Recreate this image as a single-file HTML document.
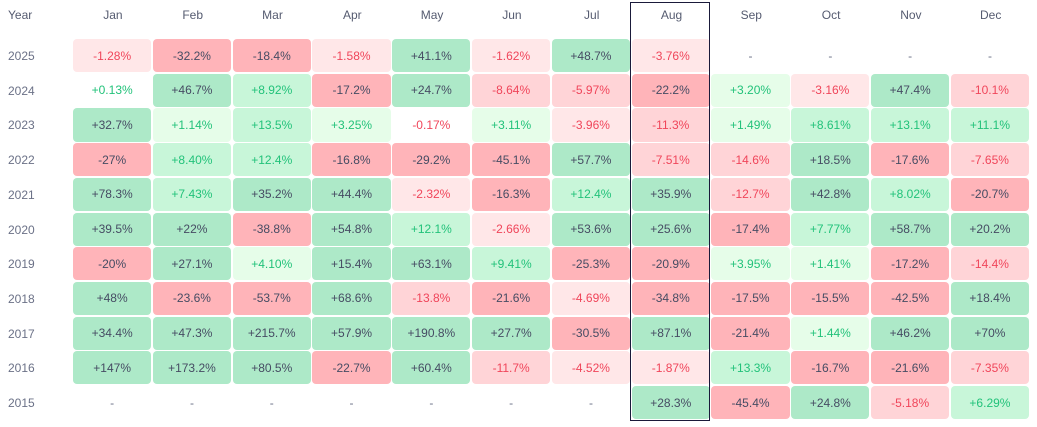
<!DOCTYPE html>
<html><head><meta charset="utf-8"><style>
body{margin:0;background:#fff;font-family:"Liberation Sans",sans-serif;}
#wrap{position:relative;width:1037px;height:427px;overflow:hidden;}
.c{position:absolute;display:flex;align-items:center;justify-content:center;font-size:12px;border-radius:4px;}
.h{position:absolute;font-size:12px;color:#555b70;text-align:center;}
</style></head><body>
<div id="wrap"></div>
<script>
const months=["Jan","Feb","Mar","Apr","May","Jun","Jul","Aug","Sep","Oct","Nov","Dec"];
const years=[2025,2024,2023,2022,2021,2020,2019,2018,2017,2016,2015];
const r2025=[-1.28,-32.2,-18.4,-1.58,41.1,-1.62,48.7,-3.76,null,null,null,null];
const r2024=[0.13,46.7,8.92,-17.2,24.7,-8.64,-5.97,-22.2,3.20,-3.16,47.4,-10.1];
const r2023=[32.7,1.14,13.5,3.25,-0.17,3.11,-3.96,-11.3,1.49,8.61,13.1,11.1];
const r2022=[-27,8.40,12.4,-16.8,-29.2,-45.1,57.7,-7.51,-14.6,18.5,-17.6,-7.65];
const r2021=[78.3,7.43,35.2,44.4,-2.32,-16.3,12.4,35.9,-12.7,42.8,8.02,-20.7];
const r2020=[39.5,22,-38.8,54.8,12.1,-2.66,53.6,25.6,-17.4,7.77,58.7,20.2];
const r2019=[-20,27.1,4.10,15.4,63.1,9.41,-25.3,-20.9,3.95,1.41,-17.2,-14.4];
const r2018=[48,-23.6,-53.7,68.6,-13.8,-21.6,-4.69,-34.8,-17.5,-15.5,-42.5,18.4];
const r2017=[34.4,47.3,215.7,57.9,190.8,27.7,-30.5,87.1,-21.4,1.44,46.2,70];
const r2016=[147,173.2,80.5,-22.7,60.4,-11.7,-4.52,-1.87,13.3,-16.7,-21.6,-7.35];
const r2015=[null,null,null,null,null,null,null,28.3,-45.4,24.8,-5.18,6.29];
const rows=[r2025,r2024,r2023,r2022,r2021,r2020,r2019,r2018,r2017,r2016,r2015];
const W=document.getElementById('wrap');
const x0=73,cw=79.8,y0=39,rh=34.7;
function fmt(v){let s=(Math.round(v*100)/100).toString();
 if(Math.abs(v)<10&&s.indexOf('.')>0&&s.split('.')[1].length<2)s+='0';
 return (v>0?'+':'')+s+'%';}
function style(v){
 if(v>=15)return['#ade9c8','#464c63'];
 if(v>=5)return['#c8f6d9','#22c27a'];
 if(v>=1)return['#e6fde9','#22c27a'];
 if(v>=0)return['transparent','#22c27a'];
 if(v>-0.5)return['transparent','#f0455a'];
 if(v<=-15)return['#ffb4b9','#464c63'];
 if(v<=-5)return['#ffd4d7','#f0455a'];
 return['#ffe7e8','#f0455a'];}
let h=document.createElement('div');h.className='h';h.style.left='8px';h.style.top='8px';h.textContent='Year';

W.appendChild(h);
months.forEach((m,i)=>{const e=document.createElement('div');e.className='h';
 e.style.left=(x0+i*cw)+'px';e.style.width=cw+'px';e.style.top='8px';e.textContent=m;
 
 W.appendChild(e);});
years.forEach((y,j)=>{const e=document.createElement('div');e.className='h';
 e.style.left='8px';e.style.top=(y0+j*rh+10)+'px';e.style.color='#6b7187';e.textContent=y;
 
 W.appendChild(e);
 rows[j].forEach((v,i)=>{const c=document.createElement('div');c.className='c';
  c.style.left=(x0+i*cw)+'px';c.style.top=(y0+j*rh)+'px';c.style.width=(cw-1.5)+'px';c.style.height=(rh-1.5)+'px';
  if(v===null){c.textContent='-';c.style.color='#6b7187';}
  else{const s=style(v);c.style.background=s[0];c.style.color=s[1];c.textContent=fmt(v);}
  
  W.appendChild(c);});});
const b=document.createElement('div');b.style.position='absolute';
b.style.left=(x0+7*cw-2)+'px';b.style.top='2px';b.style.width=(cw+1)+'px';b.style.height='419px';
b.style.border='1px solid #1a1a3a';b.style.boxSizing='border-box';

W.appendChild(b);
</script>
</body></html>
